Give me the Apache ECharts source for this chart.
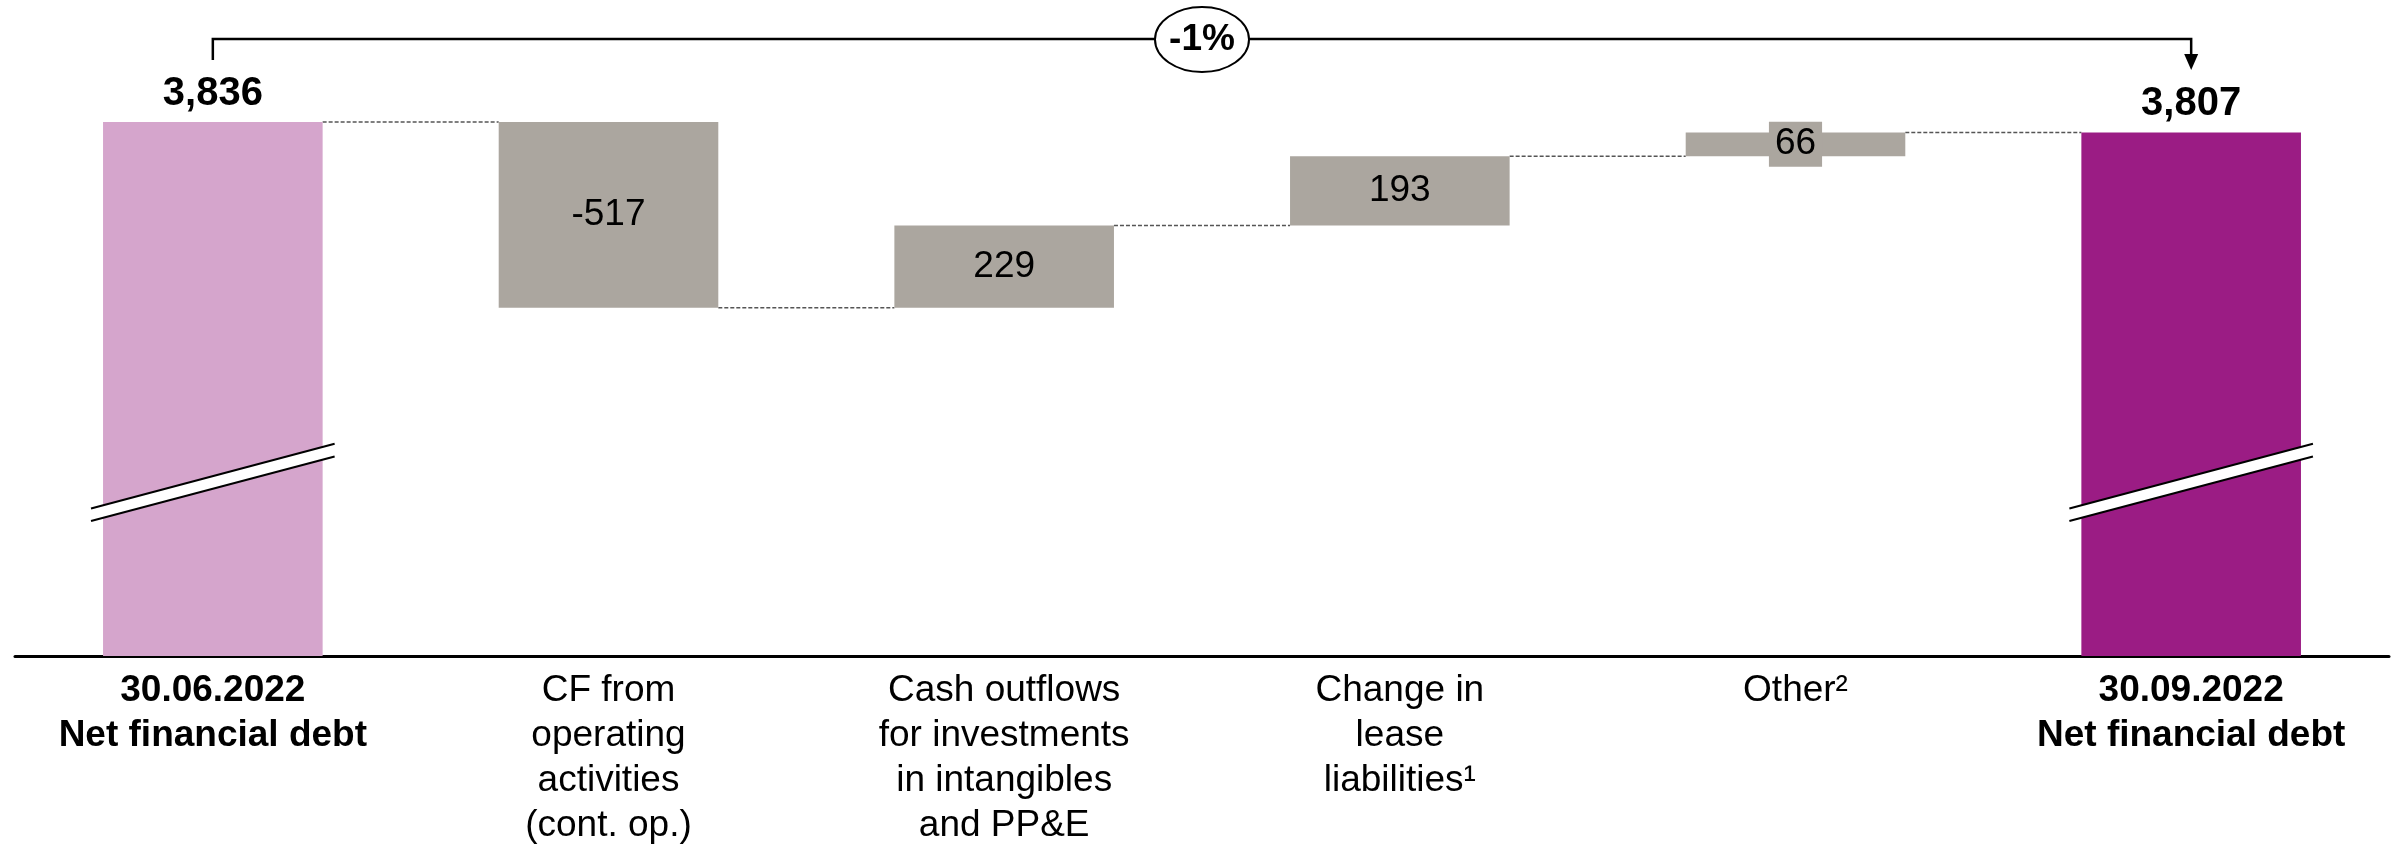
<!DOCTYPE html>
<html>
<head>
<meta charset="utf-8">
<script src="https://cdn.jsdelivr.net/npm/echarts@6/dist/echarts.min.js"></script>
<style>
  html, body { margin: 0; padding: 0; background: #fff; }
  #chart { width: 2403px; height: 848px; }
</style>
</head>
<body>
<div id="chart"></div>
<script>
// Net financial debt bridge, Q3 2022 (EUR m)
const categories = [
  '30.06.2022\nNet financial debt',
  'CF from\noperating\nactivities\n(cont. op.)',
  'Cash outflows\nfor investments\nin intangibles\nand PP&E',
  'Change in\nlease\nliabilities\u00B9',
  'Other\u00B2',
  '30.09.2022\nNet financial debt'
];
const values  = [3836, -517, 229, 193, 66, 3807];
const isTotal = [true, false, false, false, false, true];

// Styling constants
const FONT = "'Liberation Sans', Arial, Helvetica, sans-serif";
const AXIS_BASE = 2350;      // value where the (broken) axis starts
const BREAK_AT = 2833;       // value at which the axis-break mark is drawn on total bars
const BAR_RATIO = 0.555;     // bar width as share of the category band
const COL_START = '#D5A5CC';
const COL_END = '#9B1C84';
const COL_STEP = '#ABA69F';

// Floating-bar extents derived from the values
const bars = [];
let running = 0;
values.forEach((v, i) => {
  if (isTotal[i]) {
    bars.push({ lo: AXIS_BASE, hi: v, end: v });
    running = v;
  } else {
    const s = running, e = running + v;
    bars.push({ lo: Math.min(s, e), hi: Math.max(s, e), end: e });
    running = e;
  }
});
const yMax = Math.max(...bars.map(b => b.hi));
const lastIdx = values.length - 1;
const pct = Math.round((values[lastIdx] - values[0]) / values[0] * 100);

const fmt = v => v.toLocaleString('en-US');
const barColor = i => isTotal[i] ? (i === 0 ? COL_START : COL_END) : COL_STEP;

const chart = echarts.init(document.getElementById('chart'), null, { renderer: 'canvas' });

chart.setOption({
  animation: false,
  backgroundColor: '#ffffff',
  grid: { left: 15, right: 14, top: 122, bottom: 191, containLabel: false },
  xAxis: {
    type: 'category',
    data: categories,
    axisLine: { show: true, lineStyle: { color: '#000', width: 3 } },
    axisTick: { show: false },
    axisLabel: {
      interval: 0,
      margin: 12,
      color: '#000',
      fontFamily: FONT,
      fontSize: 37,
      lineHeight: 45,
      formatter: (val, idx) => isTotal[idx]
        ? val.split('\n').map(s => '{b|' + s + '}').join('\n')
        : val,
      rich: {
        b: { fontFamily: FONT, fontSize: 37, lineHeight: 45, fontWeight: 'bold', color: '#000' }
      }
    }
  },
  yAxis: {
    type: 'value',
    min: AXIS_BASE,
    max: yMax,
    show: false,
    splitLine: { show: false }
  },
  series: [
    {
      name: 'base',
      type: 'bar',
      stack: 'bridge',
      silent: true,
      barWidth: (BAR_RATIO * 100) + '%',
      itemStyle: { color: 'transparent' },
      data: bars.map(b => b.lo)
    },
    {
      name: 'value',
      type: 'bar',
      stack: 'bridge',
      barWidth: (BAR_RATIO * 100) + '%',
      z: 3,
      data: bars.map((b, i) => {
        const small = !isTotal[i] && Math.abs(values[i]) < 100;
        return {
          value: b.hi - b.lo,
          itemStyle: { color: barColor(i) },
          label: isTotal[i]
            ? { show: true, position: 'top', distance: 8, fontSize: 40, fontWeight: 'bold',
                fontFamily: FONT, color: '#000', formatter: () => fmt(values[i]) }
            : { show: true, position: 'inside', fontSize: 37, fontFamily: FONT, color: '#000',
                formatter: () => String(values[i]),
                backgroundColor: small ? COL_STEP : 'transparent',
                padding: small ? [4, 6] : 0 }
        };
      })
    },
    {
      // dashed connectors between consecutive bars
      name: 'connectors',
      type: 'custom',
      silent: true,
      z: 1,
      encode: { x: 0, y: 1 },
      data: bars.slice(0, -1).map((b, i) => [i, b.end]),
      renderItem: (params, api) => {
        const i = api.value(0), lvl = api.value(1);
        const p0 = api.coord([i, lvl]);
        const p1 = api.coord([i + 1, lvl]);
        const half = api.size([1, 0])[0] * BAR_RATIO / 2;
        return {
          type: 'line',
          shape: { x1: p0[0] + half, y1: p0[1], x2: p1[0] - half, y2: p1[1] },
          style: { stroke: '#555', lineWidth: 1.5, lineDash: [4, 2] }
        };
      }
    },
    {
      // axis-break marks across the total bars
      name: 'breaks',
      type: 'custom',
      silent: true,
      z: 6,
      encode: { x: 0, y: 1 },
      data: values.map((v, i) => i).filter(i => isTotal[i]).map(i => [i, BREAK_AT]),
      renderItem: (params, api) => {
        const c = api.coord([api.value(0), api.value(1)]);
        const span = api.size([1, 0])[0] * BAR_RATIO / 2 + 12;
        const rise = span * 65 / 245;
        const gap = 6.3;
        const xl = c[0] - span, xr = c[0] + span;
        return {
          type: 'group',
          children: [
            { type: 'polygon',
              shape: { points: [[xl, c[1] + rise - gap], [xr, c[1] - rise - gap], [xr, c[1] - rise + gap], [xl, c[1] + rise + gap]] },
              style: { fill: '#fff' } },
            { type: 'line', shape: { x1: xl, y1: c[1] + rise - gap, x2: xr, y2: c[1] - rise - gap },
              style: { stroke: '#000', lineWidth: 2 } },
            { type: 'line', shape: { x1: xl, y1: c[1] + rise + gap, x2: xr, y2: c[1] - rise + gap },
              style: { stroke: '#000', lineWidth: 2 } }
          ]
        };
      }
    },
    {
      // bracket from the opening to the closing total with the change in percent
      name: 'bracket',
      type: 'custom',
      silent: true,
      z: 6,
      encode: { x: 0, y: 1 },
      data: [[0, yMax, lastIdx]],
      renderItem: (params, api) => {
        const top = api.coord([0, api.value(1)]);
        const x0 = top[0];
        const x1 = api.coord([api.value(2), api.value(1)])[0];
        const yLine = top[1] - 83;
        const cx = (x0 + x1) / 2;
        return {
          type: 'group',
          children: [
            { type: 'polyline',
              shape: { points: [[x0, top[1] - 62], [x0, yLine], [x1, yLine], [x1, top[1] - 66]] },
              style: { stroke: '#000', lineWidth: 2.5, fill: null } },
            { type: 'polygon',
              shape: { points: [[x1 - 7, top[1] - 68], [x1 + 7, top[1] - 68], [x1, top[1] - 52]] },
              style: { fill: '#000' } },
            { type: 'ellipse',
              shape: { cx: cx, cy: yLine + 0.5, rx: 47, ry: 32.5 },
              style: { fill: '#fff', stroke: '#000', lineWidth: 2 } },
            { type: 'text',
              style: { text: pct + '%', x: cx, y: yLine + 1, align: 'center', verticalAlign: 'middle',
                       fontFamily: FONT, fontSize: 37, fontWeight: 'bold', fill: '#000' } }
          ]
        };
      }
    }
  ]
});
</script>
</body>
</html>
